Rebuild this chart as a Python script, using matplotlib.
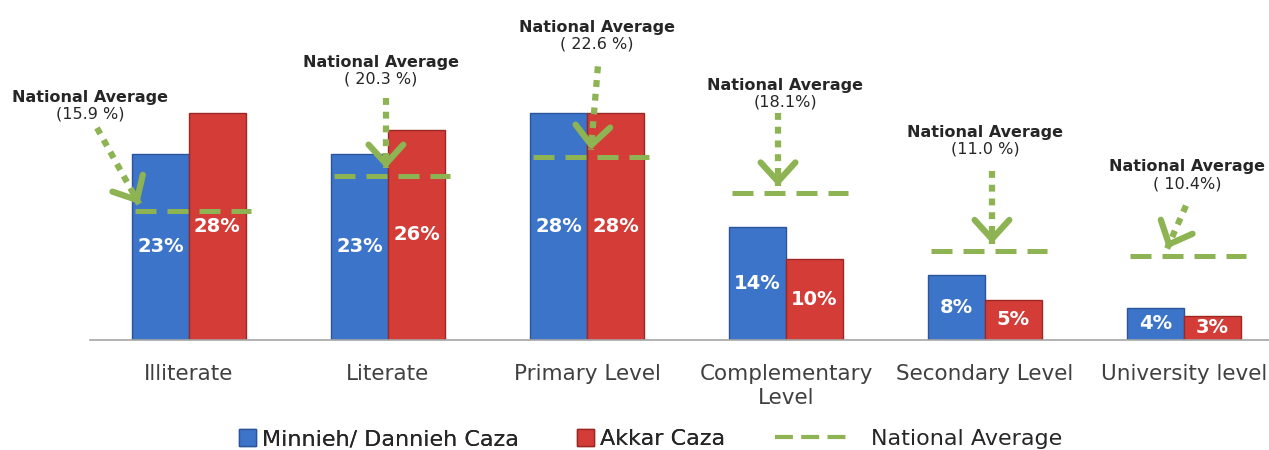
import matplotlib.pyplot as plt
from matplotlib.lines import Line2D
import numpy as np

plt.rcParams['font.family'] = ['DejaVu Sans']

# Chart data
categories = ['Illiterate', 'Literate', 'Primary Level', 'Complementary\nLevel',
              'Secondary Level', 'University level']
minnieh = [23, 23, 28, 14, 8, 4]
akkar = [28, 26, 28, 10, 5, 3]
national = [15.9, 20.3, 22.6, 18.1, 11.0, 10.4]
national_text = ['(15.9 %)', '( 20.3 %)', '( 22.6 %)', '(18.1%)', '(11.0 %)', '( 10.4%)']

# Where each "National Average" callout sits (x offset from category, y in %)
text_pos = [(-0.497, 29.0), (-0.035, 33.3), (0.05, 37.6), (-0.005, 30.5), (0.0, 24.7), (0.015, 20.4)]
arrow_start = [(-0.462, 26.2), (0.99, 29.9), (2.055, 33.8), (2.96, 28.0), (4.035, 20.9), (5.01, 16.6)]
arrow_tip_x = [-0.25, 0.99, 2.02, 2.96, 4.035, 4.915]

BLUE = '#3C74CA'
RED = '#D33C37'
GREEN = '#8DB353'

fig = plt.figure(figsize=(12.69, 4.5), dpi=100)
ax = fig.add_axes([90 / 1269, 110 / 450, 1 - 90 / 1269, 340 / 450])

x = np.arange(len(categories))
w = 0.286
ax.bar(x - w / 2, minnieh, w, color=BLUE, edgecolor='#2B559A', linewidth=1, label='Minnieh/ Dannieh Caza')
ax.bar(x + w / 2, akkar, w, color=RED, edgecolor='#9C2824', linewidth=1, label='Akkar Caza')

for i in range(len(categories)):
    ax.text(x[i] - w / 2, minnieh[i] / 2, f'{minnieh[i]}%', ha='center', va='center',
            color='white', fontsize=14, fontweight='bold')
    ax.text(x[i] + w / 2, akkar[i] / 2, f'{akkar[i]}%', ha='center', va='center',
            color='white', fontsize=14, fontweight='bold')

    # national average dashed line
    ax.plot([x[i] - 0.27, x[i] + 0.31], [national[i], national[i]], color=GREEN, lw=3.6,
            dashes=(4.2, 2.2), dash_capstyle='butt', clip_on=False)

    # callout text: bold title, value underneath
    tx, ty = text_pos[i]
    ax.text(x[i] + tx, ty + 0.05, 'National Average', ha='center', va='bottom',
            fontsize=11.5, color='#262626', fontweight='bold')
    ax.text(x[i] + tx, ty - 0.15, national_text[i], ha='center', va='top',
            fontsize=11.5, color='#262626')

    # dotted shaft + open chevron head
    sx, sy = arrow_start[i]
    tipx, tipy = arrow_tip_x[i], national[i] + 0.9
    ax.plot([sx, tipx], [sy, tipy], color=GREEN, lw=4.5, linestyle=(0, (1.1, 1.1)),
            dash_capstyle='butt', clip_on=False)
    bx = tipx + (sx - tipx) * 0.12
    by = tipy + (sy - tipy) * 0.12
    ax.annotate('', xy=(tipx, tipy), xytext=(bx, by), annotation_clip=False,
                arrowprops=dict(arrowstyle='->,head_length=0.55,head_width=0.5', color=GREEN,
                                lw=4.5, mutation_scale=25, shrinkA=0, shrinkB=0))

ax.set_xlim(-0.497, 5.427)
ax.set_ylim(0, 42)
ax.set_xticks(x)
ax.set_xticklabels(categories, fontsize=15.5, color='#404040', linespacing=1.3)
ax.tick_params(axis='x', length=0, pad=17)
ax.set_yticks([])
for s in ['top', 'right', 'left']:
    ax.spines[s].set_visible(False)
ax.spines['bottom'].set_color('#A6A6A6')
ax.spines['bottom'].set_linewidth(1.2)

# legend along the bottom edge
h, l = ax.get_legend_handles_labels()
leg1 = fig.legend(h, l, loc='center', bbox_to_anchor=(0.380, 0.024), ncol=2, frameon=False,
                  fontsize=16, handlelength=0.75, handleheight=0.75, handletextpad=0.3,
                  columnspacing=2.6, labelcolor='#262626', borderpad=0)
fig.add_artist(leg1)
nat_handle = Line2D([], [], color=GREEN, lw=3, dashes=(4.3, 2))
fig.legend([nat_handle], ['National Average'], loc='center', bbox_to_anchor=(0.724, 0.024),
           frameon=False, fontsize=16, handlelength=3.5, handletextpad=0.85, labelcolor='#262626',
           borderpad=0)

fig.savefig('out.png', dpi=100)
